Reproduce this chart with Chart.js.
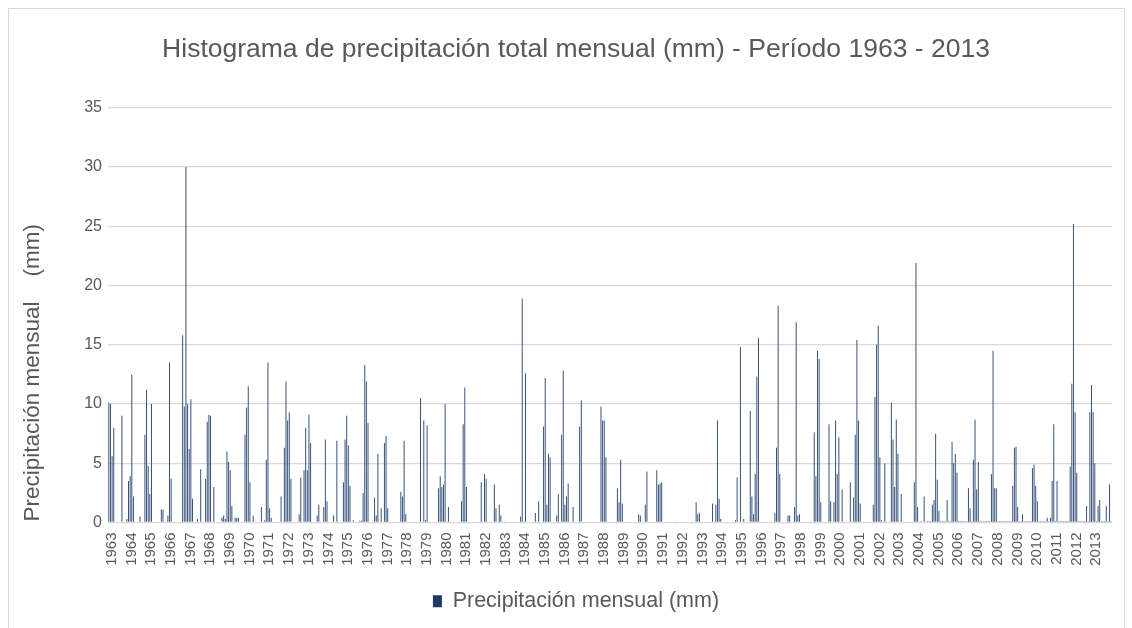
<!DOCTYPE html>
<html lang="es">
<head>
<meta charset="utf-8">
<title>Histograma de precipitación total mensual</title>
<script src="https://cdn.jsdelivr.net/npm/chart.js@4.4.1/dist/chart.umd.min.js"></script>
<style>
  html, body { margin: 0; padding: 0; background: #fff; }
  #marco { position: absolute; left: 8px; top: 8px; width: 1115px; height: 640px; border: 1px solid #d9d9d9; }
  #grafico { position: absolute; left: 0; top: 0; }
</style>
</head>
<body>
<div id="marco"></div>
<canvas id="grafico" width="1132" height="628"></canvas>
<script>
// años del periodo (una etiqueta por año, 12 meses cada uno)
var anios = ['1963', '1964', '1965', '1966', '1967', '1968', '1969', '1970', '1971', '1972',
             '1973', '1974', '1975', '1976', '1977', '1978', '1979', '1980', '1981', '1982',
             '1983', '1984', '1985', '1986', '1987', '1988', '1989', '1990', '1991', '1992',
             '1993', '1994', '1995', '1996', '1997', '1998', '1999', '2000', '2001', '2002',
             '2003', '2004', '2005', '2006', '2007', '2008', '2009', '2010', '2011', '2012',
             '2013'];

// precipitación mensual (mm), una fila por año, ene..dic
var lluvia1963_1972 = [
  10.1, 10.0, 5.6, 8.0, 0, 0, 0, 0, 9.0, 0, 0, 0.3,
  3.5, 3.9, 12.5, 2.2, 0, 0, 0, 0.5, 0, 0, 7.4, 11.2,
  4.8, 2.4, 10.0, 0, 0, 0, 0, 0, 1.1, 1.1, 0, 0,
  0.6, 13.5, 3.7, 0, 0, 0, 0, 0, 0, 15.8, 9.8, 30.0,
  10.0, 6.2, 10.4, 2.0, 0, 0, 0.3, 0, 4.5, 0, 0, 3.7,
  8.5, 9.1, 9.0, 0, 3.0, 0, 0, 0, 0, 0.4, 0.6, 0.3,
  6.0, 5.1, 4.4, 1.4, 0, 0.4, 0.4, 0.4, 0, 0, 0, 7.4,
  9.7, 11.5, 3.4, 0, 0.6, 0, 0, 0, 0, 1.3, 0, 0.2,
  5.3, 13.5, 1.2, 0.4, 0, 0, 0, 0, 0, 2.2, 0, 6.3,
  11.9, 8.6, 9.3, 3.7, 0, 0, 0, 0, 0.7, 3.8, 0, 4.4
];
var lluvia1973_1982 = [
  8.0, 4.4, 9.1, 6.7, 0, 0, 0, 0.6, 1.5, 0, 0, 1.3,
  7.0, 1.8, 0, 0, 0, 0.6, 0, 6.9, 0, 0, 0, 3.4,
  7.0, 9.0, 6.5, 3.1, 0, 0.2, 0, 0, 0, 0.15, 0.15, 2.5,
  13.3, 11.9, 8.4, 0, 0, 0, 2.1, 0.6, 5.8, 0, 1.2, 0,
  6.7, 7.3, 1.2, 0, 0, 0, 0, 0, 0, 0, 2.6, 2.2,
  6.9, 0.7, 0, 0, 0, 0, 0, 0, 0, 0, 10.5, 0,
  8.6, 0.2, 8.2, 0, 0, 0, 0, 0, 0, 2.9, 3.9, 3.0,
  3.2, 10.0, 0, 1.3, 0, 0, 0, 0, 0, 0, 0, 1.8,
  8.3, 11.4, 3.0, 0, 0, 0, 0, 0, 0, 0, 0, 3.4,
  0, 4.1, 3.7, 0, 0, 0, 0, 3.2, 1.2, 0, 1.5, 0.6
];
var lluvia1983_1992 = [
  0, 0.05, 0, 0, 0, 0, 0, 0, 0, 0, 0, 0.5,
  18.9, 0, 12.6, 0, 0, 0, 0, 0, 0.8, 0, 1.8, 0,
  0, 8.1, 12.2, 1.5, 5.8, 5.5, 0, 0, 0, 0.6, 2.4, 0,
  7.4, 12.8, 1.5, 2.2, 3.3, 0, 0, 1.3, 0, 0, 0, 8.1,
  10.3, 0, 0, 0, 0, 0, 0, 0, 0, 0, 0, 0,
  9.8, 8.6, 8.6, 5.5, 0, 0, 0, 0, 0, 0, 2.9, 1.7,
  5.3, 1.6, 0, 0, 0, 0, 0, 0, 0, 0, 0, 0.7,
  0.6, 0, 0, 1.5, 4.3, 0, 0, 0, 0, 0, 4.4, 3.2,
  3.3, 3.4, 0, 0, 0, 0, 0, 0, 0, 0, 0.05, 0,
  0, 0, 0, 0, 0, 0, 0, 0.05, 0, 0, 1.7, 0.7
];
var lluvia1993_2002 = [
  0.8, 0, 0, 0, 0, 0, 0, 0, 1.6, 0, 1.5, 8.6,
  2.0, 0.3, 0, 0, 0, 0, 0, 0, 0, 0, 0.2, 3.8,
  0, 14.8, 0, 0.3, 0, 0, 0, 9.4, 2.2, 0.7, 4.1, 12.3,
  15.6, 0, 0, 0, 0, 0, 0, 0, 0, 0, 0.8, 6.3,
  18.3, 4.1, 0, 0, 0, 0, 0.6, 0.6, 0, 0, 1.3, 16.9,
  0.6, 0.7, 0, 0, 0, 0, 0, 0, 0, 0, 7.6, 3.9,
  14.5, 13.8, 1.7, 0, 0, 0, 0, 8.3, 1.8, 0, 1.7, 8.6,
  4.1, 7.2, 0, 2.8, 0, 0, 0, 0, 3.4, 0, 2.1, 7.4,
  15.4, 8.6, 1.6, 0, 0, 0, 0, 0, 0, 0, 1.5, 10.6,
  15.0, 16.6, 5.5, 0.2, 0, 5.0, 0, 0, 0, 10.1, 7.0, 3.0
];
var lluvia2003_2013 = [
  8.7, 5.8, 0, 2.4, 0, 0, 0, 0, 0, 0, 0, 3.4,
  21.9, 1.3, 0, 0.1, 0, 2.2, 0, 0.1, 0.1, 0.1, 1.5, 1.9,
  7.5, 3.6, 1.0, 0.1, 0.1, 0.1, 0.1, 1.9, 0.1, 0.1, 6.8, 5.0,
  5.8, 4.2, 0.1, 0.1, 0.1, 0.1, 0.1, 0.1, 2.9, 1.2, 0.1, 5.3,
  8.7, 2.8, 5.1, 0.1, 0.1, 0.1, 0.1, 0.1, 0.1, 0.1, 4.1, 14.5,
  2.9, 2.9, 0.1, 0.1, 0.1, 0.1, 0.1, 0.1, 0.1, 0.1, 0.1, 3.1,
  6.3, 6.4, 1.3, 0.1, 0.1, 0.7, 0.1, 0.1, 0.1, 0.1, 0.1, 4.6,
  4.9, 3.1, 1.8, 0.1, 0.1, 0.1, 0.1, 0.1, 0.4, 0.1, 0.4, 3.5,
  8.3, 0.1, 3.5, 0.1, 0.1, 0.1, 0.1, 0.1, 0.1, 0.1, 4.7, 11.7,
  25.2, 9.3, 4.2, 0.1, 0.1, 0.1, 0.1, 0.1, 1.4, 0.1, 9.3, 11.6,
  9.3, 5.0, 0.1, 1.4, 1.9, 0.1, 0.1, 0.1, 1.4, 0.1, 3.2, 0.1
];

var valores = [].concat(lluvia1963_1972, lluvia1973_1982, lluvia1983_1992,
                        lluvia1993_2002, lluvia2003_2013);

// una categoría por mes, rotulada con su año
var categorias = [];
anios.forEach(function (a) {
    for (var m = 0; m < 12; m++) categorias.push(a);
});

var fuente = '"Liberation Sans", Arial, sans-serif';
var gris = '#595959';

// rótulo del eje vertical, dibujado a mano para dejarlo donde lo pone Excel
var tituloEje = {
    id: 'tituloEje',
    afterDraw: function (chart) {
        var ctx = chart.ctx;
        ctx.save();
        ctx.translate(33, chart.chartArea.bottom - 1);
        ctx.rotate(-Math.PI / 2);
        ctx.font = '22.5px ' + fuente;
        ctx.fillStyle = gris;
        ctx.textAlign = 'left';
        ctx.textBaseline = 'middle';
        ctx.fillText('Precipitación mensual    (mm)', 0, 0);
        ctx.restore();
    }
};

var ctx = document.querySelector('#grafico');
var grafico = new Chart(ctx, {
    type: 'bar',
    data: {
        labels: categorias,
        datasets: [{
            label: 'Precipitación mensual (mm)',
            data: valores,
            backgroundColor: '#34507a',
            borderWidth: 0,
            barPercentage: 0.6,
            categoryPercentage: 1.0
        }]
    },
    options: {
        responsive: false,
        animation: false,
        devicePixelRatio: 1,
        layout: { padding: { left: 40, right: 20, top: 0, bottom: 6 } },
        plugins: {
            title: {
                display: true,
                text: 'Histograma de precipitación total mensual (mm) - Período 1963 - 2013',
                color: gris,
                font: { family: fuente, size: 26.5, weight: 'normal' },
                padding: { top: 34, bottom: 42 }
            },
            legend: {
                position: 'bottom',
                labels: {
                    color: gris,
                    font: { family: fuente, size: 21.5 },
                    boxWidth: 9,
                    boxHeight: 12,
                    padding: 10,
                    generateLabels: function (chart) {
                        var items = Chart.defaults.plugins.legend.labels.generateLabels(chart);
                        items.forEach(function (it) { it.fillStyle = '#1f3864'; });
                        return items;
                    }
                }
            },
            tooltip: { enabled: false }
        },
        scales: {
            x: {
                grid: { display: false },
                border: { display: false },
                ticks: {
                    autoSkip: false,
                    minRotation: 90,
                    maxRotation: 90,
                    padding: 2,
                    labelOffset: 3,
                    color: gris,
                    font: { family: fuente, size: 15 },
                    callback: function (v, i) {
                        return i % 12 === 0 ? this.getLabelForValue(v) : '';
                    }
                },
                afterFit: function (s) { s.height = 58; }
            },
            y: {
                min: 0,
                max: 35,
                border: { display: false },
                grid: { color: '#d9d9d9', lineWidth: 1.3, drawTicks: false },
                ticks: {
                    stepSize: 5,
                    padding: 6,
                    color: gris,
                    font: { family: fuente, size: 16 }
                },
                afterFit: function (s) { s.width = 68; }
            }
        }
    },
    plugins: [tituloEje]
});
</script>
</body>
</html>
